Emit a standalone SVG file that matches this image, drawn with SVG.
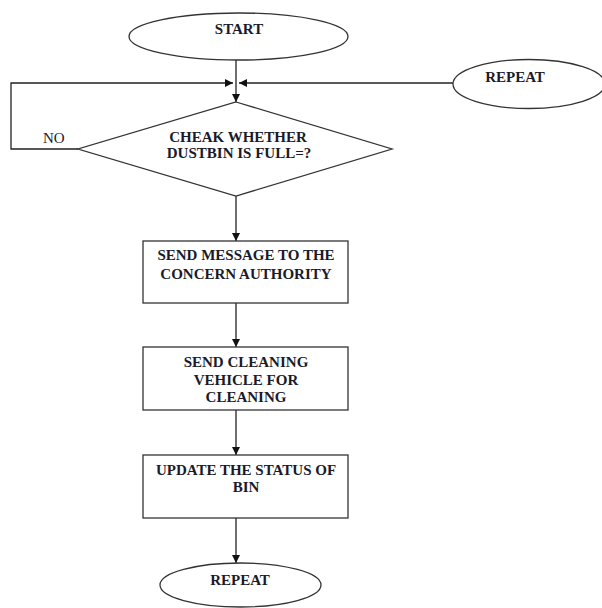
<svg xmlns="http://www.w3.org/2000/svg" width="602" height="608" viewBox="0 0 602 608">
<style>
.s{fill:#fff;stroke:#333;stroke-width:1.3}
.c{fill:none;stroke:#222;stroke-width:1.3}
.t{font-family:"Liberation Serif","Times New Roman",serif;font-weight:bold;font-size:15px;fill:#1a1a2a;text-anchor:middle}
.n{font-family:"Liberation Serif","Times New Roman",serif;font-size:15px;fill:#1a1a2a}
</style>
<defs>
<marker id="ah" viewBox="0 0 10 10" refX="10" refY="5" markerWidth="8" markerHeight="8" markerUnits="userSpaceOnUse" orient="auto">
<path d="M0,0 L10,5 L0,10 Z" fill="#111"/>
</marker>
</defs>
<rect width="602" height="608" fill="#fff"/>
<g id="connectors">
<path class="c" d="M236,60 V102" marker-end="url(#ah)"/>
<path class="c" d="M78,149 H11 V83 H233" marker-end="url(#ah)"/>
<path class="c" d="M453,83 H239" marker-end="url(#ah)"/>
<path class="c" d="M236,196 V241" marker-end="url(#ah)"/>
<path class="c" d="M236,303 V347" marker-end="url(#ah)"/>
<path class="c" d="M236,410 V455" marker-end="url(#ah)"/>
<path class="c" d="M236,518 V563" marker-end="url(#ah)"/>
<text class="n" x="43" y="143">NO</text>
</g>
<g id="start">
<ellipse class="s" cx="238.5" cy="36.5" rx="109.5" ry="23.5"/>
<text class="t" x="239" y="34">START</text>
</g>
<g id="repeat-top">
<ellipse class="s" cx="529" cy="84" rx="76" ry="24.5"/>
<text class="t" x="515" y="82">REPEAT</text>
</g>
<g id="check">
<polygon class="s" points="236,102 392,149 236,196 78,149"/>
<text class="t" x="238" y="142">CHEAK WHETHER</text>
<text class="t" x="239" y="158">DUSTBIN IS FULL=?</text>
</g>
<g id="send-message">
<rect class="s" x="143" y="241" width="205" height="62"/>
<text class="t" x="246" y="260">SEND MESSAGE TO THE</text>
<text class="t" x="246" y="279">CONCERN AUTHORITY</text>
</g>
<g id="send-vehicle">
<rect class="s" x="143" y="347" width="205" height="63"/>
<text class="t" x="246" y="367">SEND CLEANING</text>
<text class="t" x="246" y="385">VEHICLE FOR</text>
<text class="t" x="246" y="402">CLEANING</text>
</g>
<g id="update">
<rect class="s" x="143" y="455" width="205" height="63"/>
<text class="t" x="246" y="475">UPDATE THE STATUS OF</text>
<text class="t" x="246" y="492">BIN</text>
</g>
<g id="repeat-bottom">
<ellipse class="s" cx="240.5" cy="585" rx="80.5" ry="22"/>
<text class="t" x="240" y="585">REPEAT</text>
</g>
</svg>
